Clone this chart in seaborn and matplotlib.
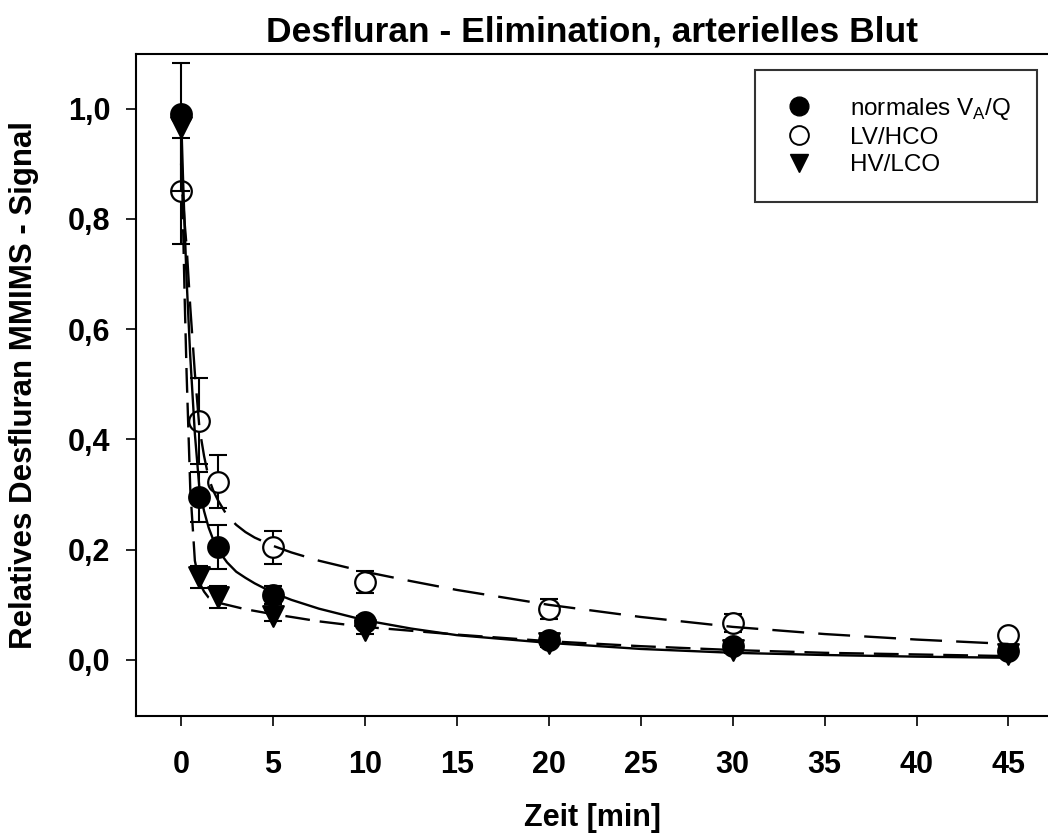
import numpy as np
import pandas as pd
import matplotlib.pyplot as plt
import seaborn as sns
from matplotlib.lines import Line2D

# Messzeitpunkte [min]
zeit = [0, 1, 2, 5, 10, 20, 30, 45]

# Mittelwerte und Fehlerbalken
normal_mw = [0.99, 0.296, 0.205, 0.118, 0.069, 0.036, 0.025, 0.016]
normal_sd = [0.01, 0.045, 0.04, 0.016, 0.01, 0.008, 0.006, 0.004]
lv_mw = [0.85, 0.433, 0.323, 0.204, 0.142, 0.092, 0.067, 0.045]
lv_sd = [0.096, 0.078, 0.048, 0.03, 0.02, 0.018, 0.017, 0.01]
hv_mw = [0.967, 0.15, 0.115, 0.08, 0.055, 0.03, 0.018, 0.01]
hv_sd = [0.116, 0.02, 0.02, 0.01, 0.008, 0.006, 0.005, 0.004]

fit_zeit = [0, 0.1, 0.2, 0.3, 0.5, 0.75, 1, 1.25, 1.5, 1.75, 2, 2.5, 3, 3.5, 4, 5, 6, 7.5,
            10, 12.5, 15, 20, 25, 30, 35, 40, 45]
fit_normal = [0.99, 0.88, 0.78, 0.69, 0.55, 0.41, 0.31, 0.27, 0.24, 0.218, 0.2, 0.177, 0.16,
              0.149, 0.139, 0.122, 0.109, 0.093, 0.072, 0.057, 0.045, 0.031, 0.02, 0.013,
              0.009, 0.006, 0.004]
fit_lv = [0.9, 0.84, 0.79, 0.75, 0.64, 0.52, 0.42, 0.37, 0.33, 0.307, 0.29, 0.262, 0.245,
          0.232, 0.222, 0.207, 0.195, 0.18, 0.16, 0.143, 0.127, 0.1, 0.078, 0.06, 0.047,
          0.037, 0.029]
fit_hv = [0.97, 0.8, 0.65, 0.52, 0.31, 0.18, 0.14, 0.124, 0.113, 0.108, 0.104, 0.1, 0.096,
          0.092, 0.089, 0.083, 0.078, 0.07, 0.06, 0.053, 0.046, 0.034, 0.025, 0.018, 0.013,
          0.01, 0.007]

sns.set_theme(style="ticks", rc={"text.color": "black", "axes.labelcolor": "black",
                                 "xtick.color": "black", "ytick.color": "black",
                                 "axes.edgecolor": "black"})
plt.rcParams['font.family'] = ['Liberation Sans', 'DejaVu Sans']
plt.rcParams['mathtext.fontset'] = 'custom'
plt.rcParams['mathtext.rm'] = 'Liberation Sans'

fig = plt.figure(figsize=(10.48, 8.34), dpi=100)
ax = fig.add_axes([0.1298, 0.1415, 0.8702, 0.7938])

gruppen = [
    ("normal", normal_mw, normal_sd, "o", "black"),
    ("lv", lv_mw, lv_sd, "o", "white"),
    ("hv", hv_mw, hv_sd, "v", "black"),
]
z = 3
for name, mw, sd, mk, fc in gruppen:
    ax.errorbar(zeit, mw, yerr=sd, fmt='none', ecolor='black', elinewidth=1.5,
                capsize=6.5, capthick=1.5, zorder=z)
    sns.scatterplot(x=zeit, y=mw, ax=ax, marker=mk, s=220, color=fc,
                    edgecolor='black', linewidth=1.6, zorder=z + 1)
    z += 2

df_fit = pd.DataFrame({"t": fit_zeit, "normal": fit_normal, "lv": fit_lv, "hv": fit_hv})
sns.lineplot(data=df_fit, x="t", y="normal", ax=ax, color='black', lw=1.7, zorder=20)
sns.lineplot(data=df_fit, x="t", y="lv", ax=ax, color='black', lw=1.7,
             linestyle=(0, (13.5, 6)), zorder=20)
sns.lineplot(data=df_fit, x="t", y="hv", ax=ax, color='black', lw=1.7,
             linestyle=(0, (10.5, 4.2)), zorder=20)

ax.set_xlim(-2.45, 47.15)
ax.set_ylim(-0.1016, 1.099)
ax.set_xticks([0, 5, 10, 15, 20, 25, 30, 35, 40, 45])
ax.set_yticks([0.0, 0.2, 0.4, 0.6, 0.8, 1.0])
ax.set_yticklabels([f"{v:.1f}".replace('.', ',') for v in [0.0, 0.2, 0.4, 0.6, 0.8, 1.0]])

for s in ['left', 'bottom', 'top']:
    ax.spines[s].set_linewidth(1.5)
    ax.spines[s].set_color('black')
ax.spines['right'].set_visible(False)

ax.tick_params(axis='both', direction='out', length=7.5, width=1.2, colors='black',
               labelsize=22)
ax.tick_params(axis='x', pad=17)
ax.tick_params(axis='y', pad=11)
for lab in ax.get_xticklabels() + ax.get_yticklabels():
    lab.set_fontweight('bold')

ax.set_xlabel("Zeit [min]", fontsize=22, fontweight='bold')
ax.xaxis.set_label_coords(0.5, -0.132)
ax.set_ylabel("Relatives Desfluran MMIMS - Signal", fontsize=22.5, fontweight='bold')
ax.yaxis.set_label_coords(-0.106, 0.5)
ax.set_title("Desfluran - Elimination, arterielles Blut", fontsize=25.5, fontweight='bold',
             pad=9, color='black')

handles = [
    Line2D([], [], ls='none', marker='o', ms=13.5, mfc='black', mec='black'),
    Line2D([], [], ls='none', marker='o', ms=13.5, mfc='white', mec='black', mew=1.4),
    Line2D([], [], ls='none', marker='v', ms=13.5, mfc='black', mec='black'),
]
labels = [r"normales V$_\mathregular{A}$/Q", "LV/HCO", "HV/LCO"]
leg = ax.legend(handles, labels, loc='upper right', bbox_to_anchor=(1037 / 1048, 1 - 70 / 834),
                bbox_transform=fig.transFigure, borderaxespad=0, fontsize=17.5, frameon=True,
                fancybox=False, borderpad=1.05, labelspacing=0.22, handlelength=1.5,
                handletextpad=1.35)
leg.get_frame().set_edgecolor('black')
leg.get_frame().set_linewidth(1.5)
leg.set_zorder(30)

fig.savefig("out.png", dpi=100)
